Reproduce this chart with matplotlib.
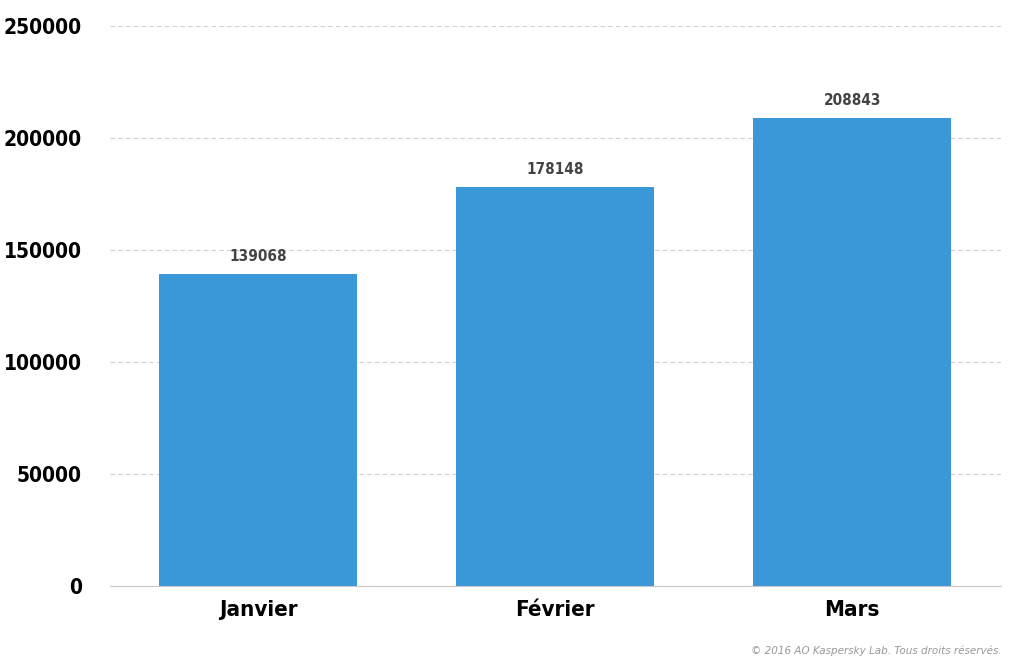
import matplotlib
matplotlib.use("Agg")
import matplotlib.pyplot as plt

months = ["Janvier", "Février", "Mars"]
values = [139068, 178148, 208843]
yticks = [0, 50000, 100000, 150000, 200000, 250000]

FONT = ["DejaVu Sans"]

fig = plt.figure(figsize=(10.17, 6.68), dpi=100)
ax = fig.add_axes([0.108, 0.1228, 0.876, 0.8383])

x = range(len(months))
ax.bar(x, values, width=0.667, color="#3a98d8", zorder=2)
for xi, v in zip(x, values):
    ax.text(xi, v + 4500, str(v), ha="center", va="bottom", fontsize=11,
            fontweight="bold", color="#444444", family=FONT, fontstretch="condensed")

ax.set_xlim(-0.5, 2.5)
ax.set_ylim(0, 250000)
ax.set_yticks(yticks)
ax.set_yticklabels([str(t) for t in yticks], fontsize=15, fontweight="bold",
                   family=FONT, fontstretch="condensed")
ax.set_xticks(list(x))
ax.set_xticklabels(months, fontsize=16, fontweight="bold", family=FONT,
                   fontstretch="condensed")
ax.tick_params(length=0, pad=10)
ax.tick_params(axis="y", pad=20)
ax.grid(axis="y", color="#d0d0d0", linestyle=(0, (4, 3)), linewidth=0.8, zorder=0)
for s in ["top", "right", "left"]:
    ax.spines[s].set_visible(False)
ax.spines["bottom"].set_color("#c8c8c8")

fig.text(0.985, 0.018, "© 2016 AO Kaspersky Lab. Tous droits réservés.", ha="right",
         va="bottom", fontsize=7.5, color="#999999", style="italic")

fig.savefig("out.png", dpi=100)
